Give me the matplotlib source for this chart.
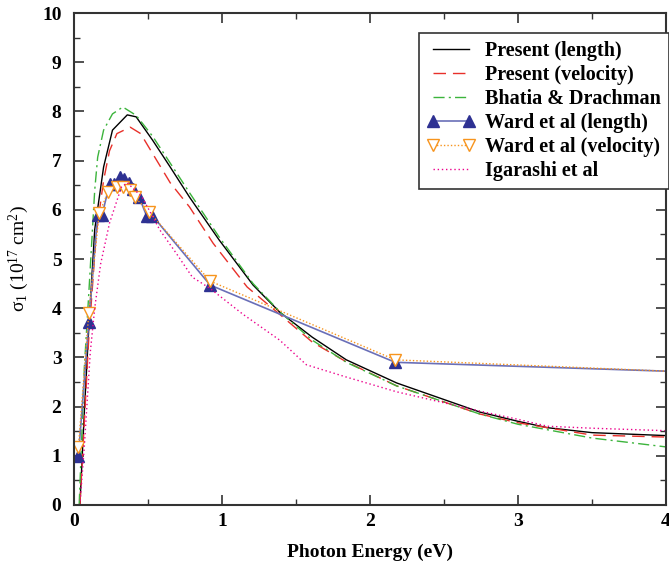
import matplotlib
matplotlib.use("Agg")
import matplotlib.pyplot as plt
from matplotlib.ticker import MultipleLocator

plt.rcParams['font.family'] = ['Liberation Serif', 'DejaVu Serif']
plt.rcParams['mathtext.fontset'] = 'stix'
plt.rcParams['mathtext.default'] = 'regular'

# --- Daten --- #
x_len = [0.04, 0.07, 0.10, 0.14, 0.20, 0.26, 0.36, 0.42, 0.53, 0.65, 0.78, 0.98,
         1.21, 1.39, 1.61, 1.84, 2.18, 2.74, 3.00, 3.20, 3.50, 4.00]
y_len = [0.00, 1.90, 3.60, 5.60, 6.87, 7.62, 7.93, 7.89, 7.42, 6.87, 6.26, 5.39,
         4.47, 3.92, 3.41, 2.95, 2.48, 1.89, 1.70, 1.57, 1.47, 1.41]

x_vel = [0.04, 0.07, 0.10, 0.15, 0.20, 0.24, 0.29, 0.38, 0.45, 0.53, 0.65, 0.78,
         0.94, 1.17, 1.40, 1.61, 1.84, 2.18, 2.74, 3.00, 3.50, 4.00]
y_vel = [0.00, 1.70, 3.40, 5.50, 6.60, 7.20, 7.55, 7.68, 7.55, 7.15, 6.55, 6.06,
         5.32, 4.43, 3.85, 3.31, 2.91, 2.42, 1.85, 1.67, 1.42, 1.38]

x_bd = [0.035, 0.05, 0.07, 0.10, 0.14, 0.16, 0.20, 0.26, 0.33, 0.42, 0.53, 0.65,
        0.78, 0.98, 1.21, 1.40, 1.61, 1.84, 2.18, 2.74, 3.00, 3.50, 4.00]
y_bd = [0.00, 1.20, 2.80, 4.30, 6.40, 7.07, 7.62, 7.95, 8.09, 7.92, 7.50, 6.95,
        6.35, 5.45, 4.50, 3.90, 3.35, 2.90, 2.42, 1.85, 1.64, 1.36, 1.18]

x_wl = [0.03, 0.10, 0.16, 0.19, 0.24, 0.27, 0.31, 0.34, 0.37, 0.40, 0.44, 0.49,
        0.53, 0.92, 2.17, 4.00]
y_wl = [1.00, 3.72, 5.90, 5.90, 6.52, 6.52, 6.67, 6.62, 6.54, 6.42, 6.26, 5.88,
        5.88, 4.47, 2.90, 2.72]

x_wv = [0.03, 0.10, 0.17, 0.23, 0.29, 0.33, 0.38, 0.41, 0.51, 0.92, 2.17, 4.00]
y_wv = [1.18, 3.90, 5.93, 6.36, 6.46, 6.46, 6.40, 6.26, 5.95, 4.55, 2.95, 2.72]

x_ig = [0.04, 0.07, 0.11, 0.14, 0.18, 0.24, 0.32, 0.36, 0.46, 0.58, 0.69, 0.80,
        0.92, 1.14, 1.39, 1.57, 1.84, 2.18, 2.51, 2.74, 3.00, 3.20, 3.50, 4.00]
y_ig = [0.00, 1.20, 3.10, 4.00, 4.90, 5.73, 6.46, 6.55, 6.26, 5.59, 5.12, 4.63,
        4.40, 3.88, 3.35, 2.85, 2.60, 2.30, 2.07, 1.91, 1.74, 1.60, 1.56, 1.51]

labels = ['Present (length)', 'Present (velocity)', 'Bhatia & Drachman',
          'Ward et al (length)', 'Ward et al (velocity)', 'Igarashi et al']


def main():
    fig = plt.figure(figsize=(6.69, 5.68), dpi=100)
    ax = fig.add_axes([0.1106, 0.111, 0.885, 0.866])

    ax.plot(x_len, y_len, color='black', lw=1.0, label=labels[0])
    ax.plot(x_vel, y_vel, color='#e8302a', lw=1.0, dashes=(9, 5), label=labels[1])
    ax.plot(x_bd, y_bd, color='#3cb43c', lw=1.0, dashes=(8, 3, 1.5, 3), label=labels[2])
    ax.plot(x_wl, y_wl, color='#6a6fb8', lw=1.2, marker='^', ms=8,
            mfc='#2e3192', mec='#2e3192', markevery=list(range(len(x_wl) - 1)),
            label=labels[3])
    ax.plot(x_wv, y_wv, color='#f7941d', lw=1.0, ls=(0, (1, 1.5)), marker='v', ms=8,
            mfc='white', mec='#f7941d', markevery=list(range(len(x_wv) - 1)),
            label=labels[4])
    ax.plot(x_ig, y_ig, color='#ec008c', lw=1.0, ls=(0, (1, 2)), label=labels[5])

    ax.set_xlim(0, 4)
    ax.set_ylim(0, 10)
    ax.xaxis.set_major_locator(MultipleLocator(1))
    ax.xaxis.set_minor_locator(MultipleLocator(0.5))
    ax.yaxis.set_major_locator(MultipleLocator(1))
    ax.yaxis.set_minor_locator(MultipleLocator(0.5))
    ax.tick_params(which='both', direction='in', top=True, right=True,
                   labelsize=14, color='#333333')
    ax.tick_params(which='major', length=7, width=1.2)
    ax.tick_params(which='minor', length=4, width=1.0)
    ax.tick_params(axis='y', which='major', pad=9)
    ax.tick_params(axis='x', which='major', pad=6)
    for lab in ax.get_xticklabels() + ax.get_yticklabels():
        lab.set_fontweight('bold')
    for sp in ax.spines.values():
        sp.set_linewidth(1.5)
        sp.set_color('#333333')

    ax.set_xlabel('Photon Energy (eV)', fontsize=14, fontweight='bold', labelpad=10)
    ax.set_ylabel('σ$_1$ (10$^{17}$ cm$^2$)', fontsize=14, labelpad=8)

    leg = ax.legend(loc='upper right', bbox_to_anchor=(1.0, 0.942, 0, 0),
                    bbox_transform=fig.transFigure, numpoints=2,
                    prop={'weight': 'bold', 'size': 14.5},
                    frameon=True, fancybox=False, framealpha=1,
                    edgecolor='#333333', handlelength=2.4, handletextpad=0.5,
                    labelspacing=0.2, borderpad=0.4, borderaxespad=0)
    leg.get_frame().set_linewidth(1.2)

    fig.savefig('out.png', dpi=100)


if __name__ == "__main__":
    main()
